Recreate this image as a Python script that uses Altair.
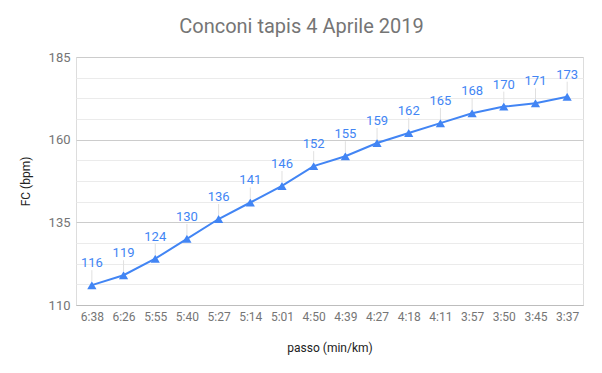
import altair as alt
import pandas as pd

passo = ["6:38", "6:26", "5:55", "5:40", "5:27", "5:14", "5:01", "4:50",
         "4:39", "4:27", "4:18", "4:11", "3:57", "3:50", "3:45", "3:37"]
fc = [116, 119, 124, 130, 136, 141, 146, 152, 155, 159, 162, 165, 168, 170, 171, 173]
y_ticks = [110 + 6.25 * i for i in range(13)]

df = pd.DataFrame({"passo": passo, "fc": fc})

FONT = "Roboto"
BLUE = "#4285f4"

x = alt.X(
    "passo:N", sort=passo,
    scale=alt.Scale(type="point", padding=0.5),
    axis=alt.Axis(title="passo (min/km)", labelAngle=0, ticks=False, grid=False,
                  domainColor="#bdbdbd", labelColor="#757575", labelFontSize=12,
                  labelFont=FONT, labelPadding=6, titleFont=FONT, titleFontSize=12,
                  titleColor="#222222", titleFontWeight="normal", titlePadding=20),
)
y = alt.Y(
    "fc:Q",
    scale=alt.Scale(domain=[110, 185], nice=False, zero=False),
    axis=alt.Axis(values=y_ticks, title="FC (bpm)",
                  labelExpr="(datum.value - 110) % 25 === 0 ? datum.label : ''",
                  gridColor={"condition": {"test": "(datum.value - 110) % 25 === 0", "value": "#cccccc"},
                             "value": "#ebebeb"},
                  ticks=False, domain=False, labelColor="#757575", labelFontSize=13,
                  labelFont=FONT, labelPadding=6, titleFont=FONT, titleFontSize=12,
                  titleColor="#222222", titleFontWeight="normal", titlePadding=16),
)

base = alt.Chart(df)
rule = base.mark_rule(color="#e0e0e0", strokeWidth=1, yOffset=-4, y2Offset=-15).encode(
    x=x, y=y, y2=alt.Y2("fc:Q"))
line = base.mark_line(color=BLUE, strokeWidth=2).encode(x=x, y=y)
pts = base.mark_point(shape="triangle-up", filled=True, size=85, color=BLUE, opacity=1).encode(x=x, y=y)
text = base.mark_text(dy=-22, color=BLUE, fontSize=13, font=FONT).encode(x=x, y=y, text="fc:Q")

chart = alt.layer(rule, line, pts, text).properties(
    width=507, height=248,
    title=alt.TitleParams("Conconi tapis 4 Aprile 2019", font=FONT, fontSize=20,
                          fontWeight="normal", color="#757575", anchor="middle",
                          dx=-28, offset=14),
    autosize=alt.AutoSizeParams(type="none"),
    padding={"left": 68, "top": 49, "right": 10, "bottom": 55},
).configure_view(stroke=None).configure(background="white")

chart.save("out.html", embed_options={"renderer": "svg", "actions": False})
